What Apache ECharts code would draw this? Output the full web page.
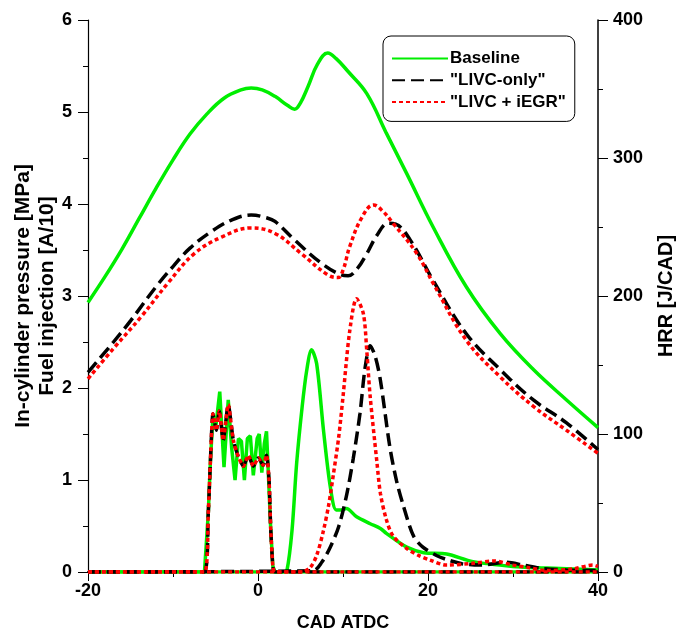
<!DOCTYPE html>
<html><head><meta charset="utf-8">
<script src="https://cdn.jsdelivr.net/npm/echarts@6/dist/echarts.min.js"></script>
<style>html,body{margin:0;padding:0;background:#fff}#c{width:677px;height:642px}</style>
</head><body><div id="c"></div>
<script>
// Tick values
const xTicks = [-20, 0, 20, 40];
const leftTicks = [0, 1, 2, 3, 4, 5, 6];
const rightTicks = [0, 100, 200, 300, 400];
const legendNames = ['Baseline', '"LIVC-only"', '"LIVC + iEGR"'];

// In-cylinder pressure [MPa] : [CAD, value]
const pressureBaseline = [[-20,2.93],[-18,3.21],[-16,3.51],[-14,3.84],[-12,4.17],[-10,4.48],[-8,4.76],[-6,4.98],[-4,5.15],[-2,5.24],[-0.8,5.26],[0.5,5.24],[2,5.17],[3.5,5.07],[4.3,5.03],[5,5.10],[5.9,5.28],[7,5.52],[8.2,5.64],[9.2,5.58],[10.6,5.44],[12.8,5.20],[15.1,4.77],[17.5,4.33],[20.6,3.75],[24.5,3.10],[28.5,2.59],[32.4,2.20],[36.3,1.87],[40,1.57]];
const pressureLIVC = [[-20,2.17],[-17,2.50],[-15,2.73],[-12,3.10],[-10,3.32],[-8,3.52],[-5.5,3.70],[-3,3.83],[-0.8,3.88],[1,3.85],[2,3.81],[4.3,3.61],[7.4,3.36],[9.8,3.23],[10.6,3.22],[11.7,3.30],[12.8,3.46],[14,3.66],[15.3,3.79],[16.2,3.78],[17.9,3.61],[20.6,3.17],[24.5,2.59],[28.5,2.20],[32.4,1.87],[36.3,1.62],[40,1.33]];
const pressureIEGR = [[-20,2.10],[-17,2.43],[-13.7,2.78],[-10.6,3.14],[-7.5,3.46],[-4.3,3.64],[-0.8,3.74],[2,3.68],[5.1,3.46],[8.2,3.23],[9.4,3.20],[10,3.28],[10.8,3.54],[12.2,3.85],[13.6,3.99],[14.6,3.93],[15.9,3.79],[18.7,3.46],[20.6,3.14],[24.5,2.52],[28.5,2.12],[32.4,1.80],[36.3,1.54],[40,1.29]];

// Heat release rate [J/CAD]
const hrrBaseline = [[-20,0],[3,0],[3.4,1],[4,30],[4.55,79],[5.2,120],[5.73,146],[6.3,161],[6.9,151],[7.7,103],[8.5,62],[9.2,45],[9.8,45],[10.4,46],[11.6,40],[13.2,35],[14.4,31.6],[15.1,28],[17.5,18],[19.5,14],[22.2,13],[25.3,7.5],[30,4],[33.2,3],[37.9,2],[40,1.5]];
const hrrLIVC = [[-20,0],[6.5,1],[7.5,7],[8.5,18],[9.5,33],[10.4,55],[11.2,82],[12,115],[12.6,148],[13.2,164],[13.8,156],[14.4,139],[15.5,91],[16.3,66],[17.1,48],[18.3,26],[19.4,18],[21,12],[22.2,9],[24,6],[26.1,5],[29.2,7],[31.2,5],[33.2,2.7],[36.3,1.5],[40,1]];
const hrrIEGR = [[-20,0],[5,0],[6.1,3],[6.9,12],[7.7,30],[8.3,48],[8.9,72],[9.5,98],[10,127],[10.8,175],[11.6,198],[12.4,187],[12.8,160],[13.2,127],[14,79],[14.4,57],[15.1,38],[15.9,26],[17.5,17],[18.9,12],[20.2,8.7],[22.2,5],[25.3,6.3],[27.7,8],[30,5],[32,3],[34,1],[37.1,2.3],[39.4,5],[40,4]];

// Fuel injection [A/10]
const injBaseline = [[-20,0],[-6.3,0],[-5.85,0.64],[-5.6,1.2],[-5.3,1.7],[-5.0,1.55],[-4.5,1.96],[-4.0,1.14],[-3.5,1.87],[-3.1,1.35],[-2.7,1.0],[-2.3,1.45],[-1.95,1.42],[-1.6,1.0],[-1.25,1.45],[-0.9,1.48],[-0.55,1.05],[-0.1,1.45],[0.15,1.5],[0.45,1.08],[0.75,1.4],[1.0,1.53],[1.25,1.0],[1.5,0.46],[1.75,0.06],[2.0,0],[40,0]];
const injLIVC = [[-20,0],[-6.3,0],[-5.85,0.64],[-5.6,1.2],[-5.3,1.72],[-4.9,1.54],[-4.55,1.75],[-4.1,1.43],[-3.5,1.82],[-2.9,1.43],[-2.3,1.25],[-1.7,1.15],[-1.15,1.27],[-0.55,1.15],[0.05,1.24],[0.6,1.16],[1.0,1.27],[1.3,1.0],[1.5,0.46],[1.75,0.06],[2,0],[40,0]];
const injIEGR = [[-20,0],[-6.3,0],[-5.85,0.64],[-5.6,1.2],[-5.3,1.72],[-4.9,1.54],[-4.55,1.75],[-4.1,1.43],[-3.5,1.82],[-2.9,1.43],[-2.3,1.25],[-1.7,1.15],[-1.15,1.27],[-0.55,1.15],[0.05,1.24],[0.6,1.16],[1.0,1.27],[1.3,1.0],[1.5,0.46],[1.75,0.06],[2,0],[40,0]];

const FONT = '"Liberation Sans", Arial, sans-serif';
const green = '#00ee00', black = '#000000', red = '#ff0000';
const styles = [
  {color: green, type: 'solid', width: 3.5},
  {color: black, type: [13, 6], width: 3.5},
  {color: red, type: [4, 3], width: 3.5}
];
function mk(name, data, st, yIdx, smooth, z) {
  return {
    name: name, type: 'line', data: data, yAxisIndex: yIdx,
    showSymbol: false, symbol: 'none', smooth: smooth, z: z,
    lineStyle: {color: st.color, type: st.type, width: st.width},
    itemStyle: {color: st.color}, animation: false
  };
}
const series = [
  mk(legendNames[0], pressureBaseline, styles[0], 0, 0.4, 2),
  mk(legendNames[1], pressureLIVC, styles[1], 0, 0.4, 3),
  mk(legendNames[2], pressureIEGR, styles[2], 0, 0.4, 4),
  mk(legendNames[0], hrrBaseline, styles[0], 1, 0.3, 2),
  mk(legendNames[1], hrrLIVC, styles[1], 1, 0.3, 3),
  mk(legendNames[2], hrrIEGR, styles[2], 1, 0.3, 4),
  mk(legendNames[0], injBaseline, styles[0], 0, false, 2),
  mk(legendNames[1], injLIVC, styles[1], 0, 0.2, 3),
  mk(legendNames[2], injIEGR, styles[2], 0, 0.2, 4)
];
const labelFont = {fontFamily: FONT, fontWeight: 'bold', fontSize: 18, color: '#000'};
const leftNameFont = {fontFamily: FONT, fontWeight: 'bold', fontSize: 21, color: '#000', lineHeight: 24};
const rightNameFont = {fontFamily: FONT, fontWeight: 'bold', fontSize: 20, color: '#000'};
const xNameFont = {fontFamily: FONT, fontWeight: 'bold', fontSize: 18, color: '#000'};

const chart = echarts.init(document.getElementById('c'), null, {renderer: 'canvas'});
chart.setOption({
  animation: false,
  backgroundColor: '#fff',
  grid: {left: 88, right: 79, top: 20, bottom: 70, containLabel: false, outerBoundsMode: 'none'},
  legend: {
    data: legendNames, orient: 'vertical', left: 383, top: 36,
    backgroundColor: '#fff', borderColor: '#000', borderWidth: 1, borderRadius: 8,
    padding: [14, 9, 11, 8], itemWidth: 56, itemHeight: 14, itemGap: 4.7, itemStyle: {opacity: 0},
    textStyle: {fontFamily: FONT, fontWeight: 'bold', fontSize: 17, lineHeight: 17, color: '#000', padding: [0, 0, 0, -3]}
  },
  xAxis: {
    type: 'value', min: xTicks[0], max: xTicks[xTicks.length - 1], interval: 20,
    name: 'CAD ATDC', nameLocation: 'middle', nameGap: 42, nameTextStyle: xNameFont,
    axisLine: {onZero: false, lineStyle: {color: '#000', width: 2}},
    axisTick: {show: true, length: 9, lineStyle: {color: '#000', width: 1}},
    minorTick: {show: true, splitNumber: 2, length: 5, lineStyle: {color: '#000', width: 1}},
    axisLabel: Object.assign({margin: 10}, labelFont),
    splitLine: {show: false}
  },
  yAxis: [{
    type: 'value', min: leftTicks[0], max: leftTicks[leftTicks.length - 1], interval: 1,
    name: 'In-cylinder pressure [MPa]\nFuel injection [A/10]', nameLocation: 'middle', nameGap: 29,
    nameMoveOverlap: false,
    nameTextStyle: leftNameFont,
    axisLine: {show: true, onZero: false, lineStyle: {color: '#000', width: 1.2}},
    axisTick: {show: true, length: 10, lineStyle: {color: '#000'}},
    minorTick: {show: true, splitNumber: 2, length: 5, lineStyle: {color: '#000'}},
    axisLabel: Object.assign({margin: 16}, labelFont),
    splitLine: {show: false}
  }, {
    type: 'value', position: 'right', min: rightTicks[0], max: rightTicks[rightTicks.length - 1], interval: 100,
    name: 'HRR [J/CAD]', nameLocation: 'middle', nameGap: 58, nameMoveOverlap: false, nameTextStyle: rightNameFont,
    axisLine: {show: true, onZero: false, lineStyle: {color: '#000', width: 1.5}},
    axisTick: {show: true, length: 10, lineStyle: {color: '#000'}},
    minorTick: {show: true, splitNumber: 2, length: 5, lineStyle: {color: '#000'}},
    axisLabel: Object.assign({margin: 15}, labelFont),
    splitLine: {show: false}
  }],
  series: series
});
</script></body></html>
